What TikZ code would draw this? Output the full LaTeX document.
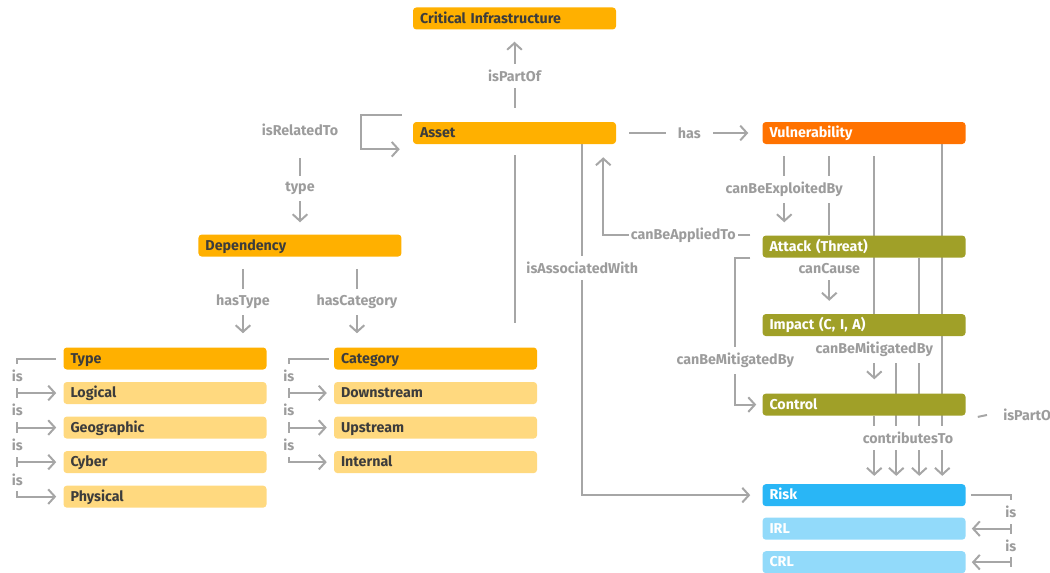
\documentclass[tikz,border=0pt]{standalone}
\usepackage{fontspec}
\setmainfont{Fira Sans}
\usetikzlibrary{positioning,arrows.meta,backgrounds}

\definecolor{infra}{HTML}{FFB000}
\definecolor{infralight}{HTML}{FFD97F}
\definecolor{vuln}{HTML}{FF7200}
\definecolor{threat}{HTML}{A0A028}
\definecolor{riskblue}{HTML}{29B6F6}
\definecolor{risklight}{HTML}{92DAFA}
\definecolor{conn}{HTML}{A6A6A6}
\definecolor{lbltext}{HTML}{9C9C9C}
\definecolor{boxtext}{HTML}{3C3C3C}

\tikzset{
  box/.style={rectangle, rounded corners=2.5pt, text width=141.75pt, inner xsep=5.25pt, inner ysep=0pt,
    minimum height=16.5pt, text height=8pt, text depth=1pt, align=left, font=\bfseries\fontsize{10.7}{12}\selectfont},
  asset box/.style={box, fill=infra, text=boxtext},
  value box/.style={box, fill=infralight, text=boxtext},
  threat box/.style={box, fill=threat, text=white},
  risk box/.style={box, fill=riskblue, text=white},
  level box/.style={box, fill=risklight, text=white},
  link/.style={draw=conn, line width=1.5pt},
  lbl/.style={fill=white, text=lbltext, inner xsep=3pt, inner ysep=4.5pt, font=\bfseries\fontsize{10.7}{12}\selectfont},
}

\begin{document}
\begin{tikzpicture}[x=0.75pt, y=-0.75pt, >={Straight Barb[length=5pt,width=11pt]}]
    \useasboundingbox (0,0) rectangle (1050,572);

    % asset side
    \node [asset box] (asset) at (514.5,133) {Asset};
    \node [asset box, above=69pt of asset] (ci) {Critical Infrastructure};
    \node [asset box, below left=67.5pt and 8.25pt of asset] (dependency) {Dependency};
    \node [lbl] (related) at (300,130) {isRelatedTo};

    \node [asset box] (type) at (165,358.5) {Type};
    \foreach \n/\t [remember=\n as \p (initially type)] in {logical/Logical, geographic/Geographic, cyber/Cyber, physical/Physical}
        \node [value box, below=9pt of \p] (\n) {\t};
    \node [asset box, right=50.25pt of type] (category) {Category};
    \foreach \n/\t [remember=\n as \p (initially category)] in {downstream/Downstream, upstream/Upstream, internal/Internal}
        \node [value box, below=9pt of \p] (\n) {\t};

    % vulnerability side
    \node [box, fill=vuln, text=white, right=109.5pt of asset] (vuln) {Vulnerability};
    \node [threat box, below=68.25pt of vuln] (attack) {Attack (Threat)};
    \node [threat box, below=42pt of attack] (impact) {Impact (C, I, A)};
    \node [threat box, below=42.75pt of impact] (control) {Control};
    \node [risk box, below=51pt of control] (risk) {Risk};
    \node [level box, below=8.25pt of risk] (irl) {IRL};
    \node [level box, below=8.25pt of irl] (crl) {CRL};
    \node [lbl, anchor=west] (ctrlpart) at (999,415) {isPartOf};

    \begin{scope}[on background layer]
    % lines running behind the boxes
    \draw [link, shorten <=9pt] ([shift={(67,0)}]vuln.south west) -- ([shift={(67,0)}]vuln.south west |- attack.north);
    \draw [link, shorten <=9pt] ([shift={(112,0)}]vuln.south west) -- ([shift={(112,0)}]vuln.south west |- impact.north);
    \draw [link, ->, shorten >=6pt] ([shift={(180,0)}]vuln.south west) -- ([shift={(180,0)}]vuln.south west |- risk.north);
    \draw [link, ->, shorten >=6pt] ([shift={(157,0)}]attack.south west) -- ([shift={(157,0)}]attack.south west |- risk.north);
    \draw [link, ->, shorten >=6pt] ([shift={(134,0)}]impact.south west) -- ([shift={(134,0)}]impact.south west |- risk.north);
    \draw [link, ->, shorten >=6pt] ([shift={(112,0)}]control.south west) -- ([shift={(112,0)}]control.south west |- risk.north);

    \draw [link, ->, shorten <=10.5pt, shorten >=9pt] (asset) -- node [lbl] {isPartOf} (ci);
    \draw [link, ->, shorten <=9.75pt, shorten >=10.5pt] (asset) -- node [lbl, inner xsep=9pt] {has} (vuln);
    \draw [link, ->] ([shift={(-11,-7)}]asset.north west) -- ++(-41,0) |- ([shift={(-13,5)}]asset.south west);
    \draw [link, ->, shorten <=12pt, shorten >=9pt] (related.south) -- node [lbl] {type} (related.south |- dependency.north);
    \draw [link, ->, shorten <=9pt, shorten >=10.5pt] ([shift={(-57,0)}]dependency.south) -- node [lbl] {hasType} ([shift={(-57,0)}]dependency.south |- type.north);
    \draw [link, ->, shorten <=9pt, shorten >=10.5pt] ([shift={(57,0)}]dependency.south) -- node [lbl] {hasCategory} ([shift={(57,0)}]dependency.south |- category.north);
    \draw [link, shorten <=8.25pt, shorten >=18pt] (asset.south) -- (asset.south |- category.north);
    \draw [link, ->, shorten >=9pt] ([shift={(-34,0)}]asset.south east) |- node [lbl, pos=0.176] {isAssociatedWith} (risk.west);
    \draw [link, ->, shorten >=9.75pt] ([shift={(-12,0)}]attack.north west) -| node [lbl, pos=0.228, inner xsep=1.5pt] {canBeAppliedTo} ([shift={(-13,0)}]asset.south east);

    \draw [link, ->, shorten <=9pt, shorten >=9.75pt] ([shift={(22,0)}]vuln.south west) -- node [lbl] {canBeExploitedBy} ([shift={(22,0)}]vuln.south west |- attack.north);
    \draw [link, ->, shorten >=9.75pt] ([shift={(67,0)}]attack.south west) -- node [lbl, pos=0.2] {canCause} ([shift={(67,0)}]attack.south west |- impact.north);
    \draw [link, ->, shorten >=10.5pt] ([shift={(112,0)}]impact.south west) -- node [lbl, pos=0.23] {canBeMitigatedBy} ([shift={(112,0)}]impact.south west |- control.north);
    \draw [link, ->, shorten >=4.5pt] ([shift={(-12,0)}]attack.south west) -- ++(-15,0) |- node [lbl, pos=0.35] {canBeMitigatedBy} (control.west);
    \node [lbl] (contrib) at (908,438) {contributesTo};
    \draw [link] ([shift={(12,1)}]control.south east) -- ([shift={(-12,0)}]ctrlpart.west);

    % "is" brackets
    \coordinate (typebar) at ([shift={(-46,0)}]type.west);
    \draw [link, ->, shorten >=5.25pt] ([shift={(-7,0)}]type.west) -- (typebar) |- (physical.west);
    \foreach \n in {logical,geographic,cyber}
        \draw [link, ->, shorten >=5.25pt] (typebar |- \n.west) -- (\n.west);
    \foreach \a/\b in {type/logical, logical/geographic, geographic/cyber, cyber/physical}
        \path (typebar |- \a.west) -- node [lbl, inner xsep=1pt] (is-\b) {is} (typebar |- \b.west);

    \coordinate (catbar) at ([shift={(-45,0)}]category.west);
    \draw [link, ->, shorten >=5.25pt] ([shift={(-5,0)}]category.west) -- (catbar) |- (internal.west);
    \foreach \n in {downstream,upstream}
        \draw [link, ->, shorten >=5.25pt] (catbar |- \n.west) -- (\n.west);
    \foreach \a/\b in {category/downstream, downstream/upstream, upstream/internal}
        \path (catbar |- \a.west) -- node [lbl, inner xsep=1pt] (is-\b) {is} (catbar |- \b.west);

    \coordinate (riskbar) at ([shift={(45,0)}]risk.east);
    \draw [link, shorten <=3.75pt] (risk.east) -- (riskbar) -- ([shift={(0,5)}]riskbar |- crl.east);
    \foreach \n in {irl,crl}
        \draw [link, ->, shorten >=4.5pt] (riskbar |- \n.east) -- (\n.east);
    \foreach \a/\b in {risk/irl, irl/crl}
        \path (riskbar |- \a.east) -- node [lbl, inner xsep=1pt] (is-\b) {is} (riskbar |- \b.east);
    \end{scope}
\end{tikzpicture}
\end{document}
